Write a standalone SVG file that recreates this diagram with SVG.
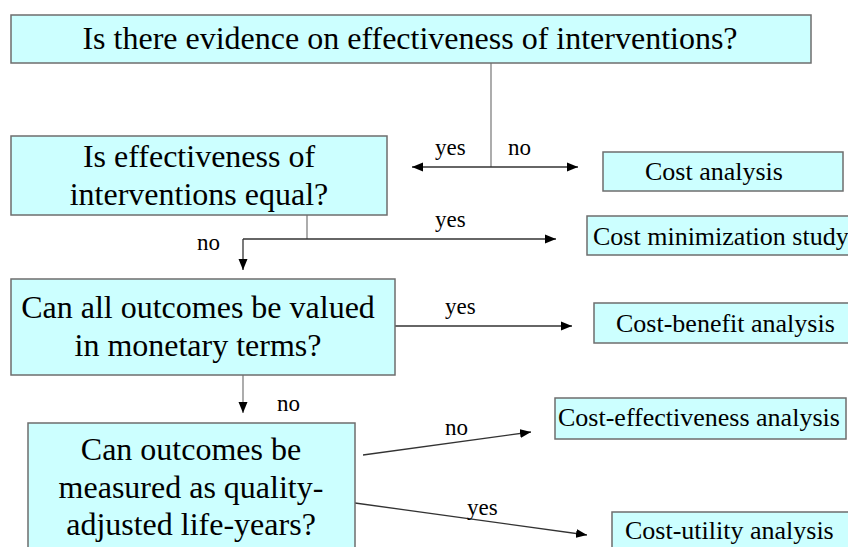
<svg xmlns="http://www.w3.org/2000/svg" width="848" height="547" viewBox="0 0 848 547">
<style>
.box{fill:#CCFFFF;stroke:#6E6E6E;stroke-width:1.5}
text{font-family:"Liberation Serif","Times New Roman","DejaVu Serif",serif;fill:#000}
.big{font-size:32px;text-anchor:middle}
.small{font-size:26px}
.lbl{font-size:23px}
.ln{fill:none;stroke:#333;stroke-width:1.3}
.gr{fill:none;stroke:#808080;stroke-width:1.3}
</style>
<defs>
<marker id="ah" markerUnits="userSpaceOnUse" markerWidth="12" markerHeight="10" refX="11" refY="5" orient="auto-start-reverse" viewBox="0 0 12 10">
<path d="M0,0.5 L11,5 L0,9.5 z" fill="#000"/>
</marker>
</defs>
<rect width="848" height="547" fill="#fff"/>
<g id="connectors">
<path class="gr" d="M491,63 V167"/>
<path class="ln" d="M412,167 H578" marker-start="url(#ah)" marker-end="url(#ah)"/>
<path class="gr" d="M307,215 V239"/>
<path class="ln" d="M243,239 H556" marker-end="url(#ah)"/>
<path class="ln" d="M243,239 V270" marker-end="url(#ah)"/>
<path class="ln" d="M395,326 H572" marker-end="url(#ah)"/>
<path class="gr" d="M243,375 V413" marker-end="url(#ah)"/>
<path class="ln" d="M363,455 L531,432" marker-end="url(#ah)"/>
<path class="ln" d="M355,503 L587,535" marker-end="url(#ah)"/>
<text class="lbl" x="435" y="155">yes</text>
<text class="lbl" x="508" y="155">no</text>
<text class="lbl" x="435" y="227">yes</text>
<text class="lbl" x="197" y="250">no</text>
<text class="lbl" x="445" y="314">yes</text>
<text class="lbl" x="277" y="411">no</text>
<text class="lbl" x="445" y="435">no</text>
<text class="lbl" x="467" y="515">yes</text>
</g>
<g id="q1">
<rect class="box" x="11" y="15" width="800" height="48"/>
<text class="big" x="410" y="49">Is there evidence on effectiveness of interventions?</text>
</g>
<g id="q2">
<rect class="box" x="11" y="136" width="376" height="79"/>
<text class="big" x="199" y="167">Is effectiveness of</text>
<text class="big" x="199" y="205">interventions equal?</text>
</g>
<g id="q3">
<rect class="box" x="11" y="279" width="384" height="96"/>
<text class="big" x="198" y="318">Can all outcomes be valued</text>
<text class="big" x="198" y="356">in monetary terms?</text>
</g>
<g id="q4">
<rect class="box" x="28" y="423" width="327" height="140"/>
<text class="big" x="191" y="460">Can outcomes be</text>
<text class="big" x="191" y="498">measured as quality-</text>
<text class="big" x="191" y="535">adjusted life-years?</text>
</g>
<g id="costAnalysis">
<rect class="box" x="603" y="152" width="240" height="39"/>
<text class="small" x="645" y="180">Cost analysis</text>
</g>
<g id="costMin">
<rect class="box" x="587" y="216" width="280" height="39"/>
<text class="small" x="593" y="245">Cost minimization study</text>
</g>
<g id="costBenefit">
<rect class="box" x="594" y="303" width="270" height="40"/>
<text class="small" x="616" y="332">Cost-benefit analysis</text>
</g>
<g id="costEff">
<rect class="box" x="555" y="398" width="291" height="41"/>
<text class="small" x="558" y="426">Cost-effectiveness analysis</text>
</g>
<g id="costUtil">
<rect class="box" x="612" y="512" width="260" height="50"/>
<text class="small" x="625" y="539">Cost-utility analysis</text>
</g>
</svg>
